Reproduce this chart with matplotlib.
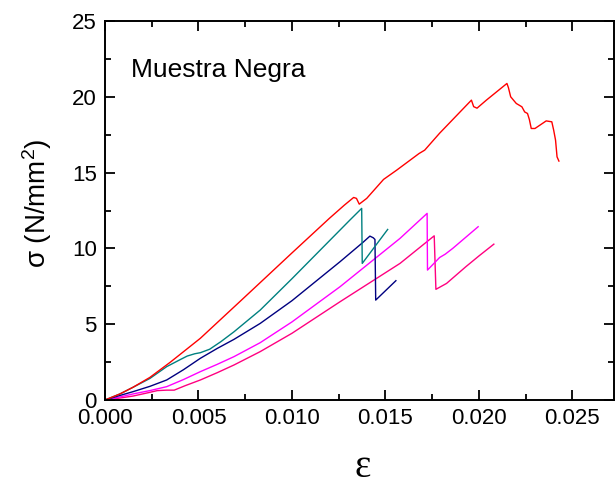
import matplotlib
matplotlib.use("Agg")
import matplotlib.pyplot as plt
from matplotlib.ticker import MultipleLocator, FormatStrFormatter

plt.rcParams['font.family'] = ['Liberation Sans', 'DejaVu Sans']
plt.rcParams['mathtext.default'] = 'regular'

# Stress-strain curves (strain, stress in N/mm^2)
red_x = [0, 0.0008, 0.0015, 0.0024, 0.0035, 0.0051, 0.0073, 0.0100, 0.0120, 0.0128,
         0.0133, 0.01345, 0.0136, 0.0140, 0.0149, 0.0156, 0.0168, 0.0171, 0.0179, 0.0196,
         0.01972, 0.0199, 0.0204, 0.0215, 0.02158, 0.0217, 0.0220, 0.0223, 0.02245, 0.0226,
         0.0227, 0.0228, 0.0230, 0.0236, 0.0239, 0.0240, 0.0241, 0.02418, 0.02428]
red_y = [0, 0.4, 0.84, 1.49, 2.5, 4.07, 6.59, 9.7, 11.98, 12.85,
         13.36, 13.3, 12.92, 13.3, 14.55, 15.16, 16.26, 16.48, 17.6, 19.78,
         19.35, 19.25, 19.78, 20.88, 20.6, 20.0, 19.56, 19.34, 19.0, 18.9,
         18.5, 17.91, 17.91, 18.41, 18.35, 17.8, 17.14, 16.04, 15.76]

teal_x = [0, 0.0008, 0.0015, 0.0024, 0.0033, 0.0040, 0.0044, 0.0048, 0.0051, 0.0056,
          0.0062, 0.0069, 0.0083, 0.0100, 0.0131, 0.01373, 0.01376, 0.01512]
teal_y = [0, 0.4, 0.84, 1.42, 2.2, 2.65, 2.9, 3.05, 3.12, 3.35,
          3.85, 4.5, 5.93, 8.0, 11.87, 12.64, 9.01, 11.25]

navy_x = [0, 0.0008, 0.0015, 0.0024, 0.0033, 0.0042, 0.0051, 0.0060, 0.0069, 0.0083,
          0.0100, 0.01257, 0.0138, 0.01417, 0.01435, 0.01444, 0.01448, 0.01556]
navy_y = [0, 0.3, 0.55, 0.9, 1.32, 2.0, 2.75, 3.4, 4.0, 5.05,
          6.55, 9.12, 10.4, 10.81, 10.7, 10.59, 6.59, 7.87]

magenta_x = [0, 0.0008, 0.0015, 0.0024, 0.0033, 0.0042, 0.0051, 0.0060, 0.0069, 0.0083,
             0.0100, 0.01257, 0.01578, 0.01723, 0.01725, 0.0179, 0.0182, 0.0186, 0.01996]
magenta_y = [0, 0.2, 0.40, 0.62, 0.88, 1.35, 1.87, 2.35, 2.86, 3.78,
             5.15, 7.47, 10.66, 12.31, 8.57, 9.4, 9.62, 10.0, 11.43]

pink_x = [0, 0.0008, 0.0015, 0.0022, 0.0028, 0.0033, 0.0037, 0.0043, 0.0051, 0.0060,
          0.0069, 0.0083, 0.0100, 0.01257, 0.01578, 0.01761, 0.0177, 0.01827, 0.0193,
          0.0200, 0.0208]
pink_y = [0, 0.13, 0.26, 0.45, 0.62, 0.65, 0.65, 0.95, 1.32, 1.8,
          2.31, 3.19, 4.4, 6.48, 9.01, 10.83, 7.30, 7.69, 8.79,
          9.5, 10.28]

series = [
    (pink_x, pink_y, '#FF0080'),
    (magenta_x, magenta_y, '#FF00FF'),
    (navy_x, navy_y, '#000080'),
    (teal_x, teal_y, '#008080'),
    (red_x, red_y, '#FF0000'),
]

fig = plt.figure(figsize=(6.15, 4.86), dpi=100)
ax = fig.add_axes([105 / 615, 1 - 400 / 486, 508.5 / 615, 379 / 486])

for xs, ys, color in series:
    ax.plot(xs, ys, color=color, lw=1.0)

ax.set_xlim(0, 0.0272)
ax.set_ylim(0, 25)
ax.xaxis.set_major_locator(MultipleLocator(0.005))
ax.xaxis.set_minor_locator(MultipleLocator(0.0025))
ax.yaxis.set_major_locator(MultipleLocator(5))
ax.yaxis.set_minor_locator(MultipleLocator(2.5))
ax.xaxis.set_major_formatter(FormatStrFormatter('%.3f'))
ax.yaxis.set_major_formatter(FormatStrFormatter('%d'))

ax.tick_params(which='both', direction='in', top=True, right=True, width=1.3)
ax.tick_params(which='major', length=7, labelsize=16, pad=6)
ax.tick_params(which='minor', length=4)
for sp in ax.spines.values():
    sp.set_linewidth(1.4)

ax.set_ylabel(r'σ (N/mm$^2$)', fontsize=20, va='center')
ax.yaxis.set_label_coords(-0.134, 0.52)
ax.set_xlabel('ε', fontsize=28, family=['Liberation Serif', 'DejaVu Serif'], va='center')
ax.xaxis.set_label_coords(0.507, -0.177)

# sample name, placed in figure pixels (origin at bottom-left)
ax.text(131, 486 - 77, 'Muestra Negra', fontsize=19, transform=None, va='baseline')

fig.savefig('out.png', dpi=100)
